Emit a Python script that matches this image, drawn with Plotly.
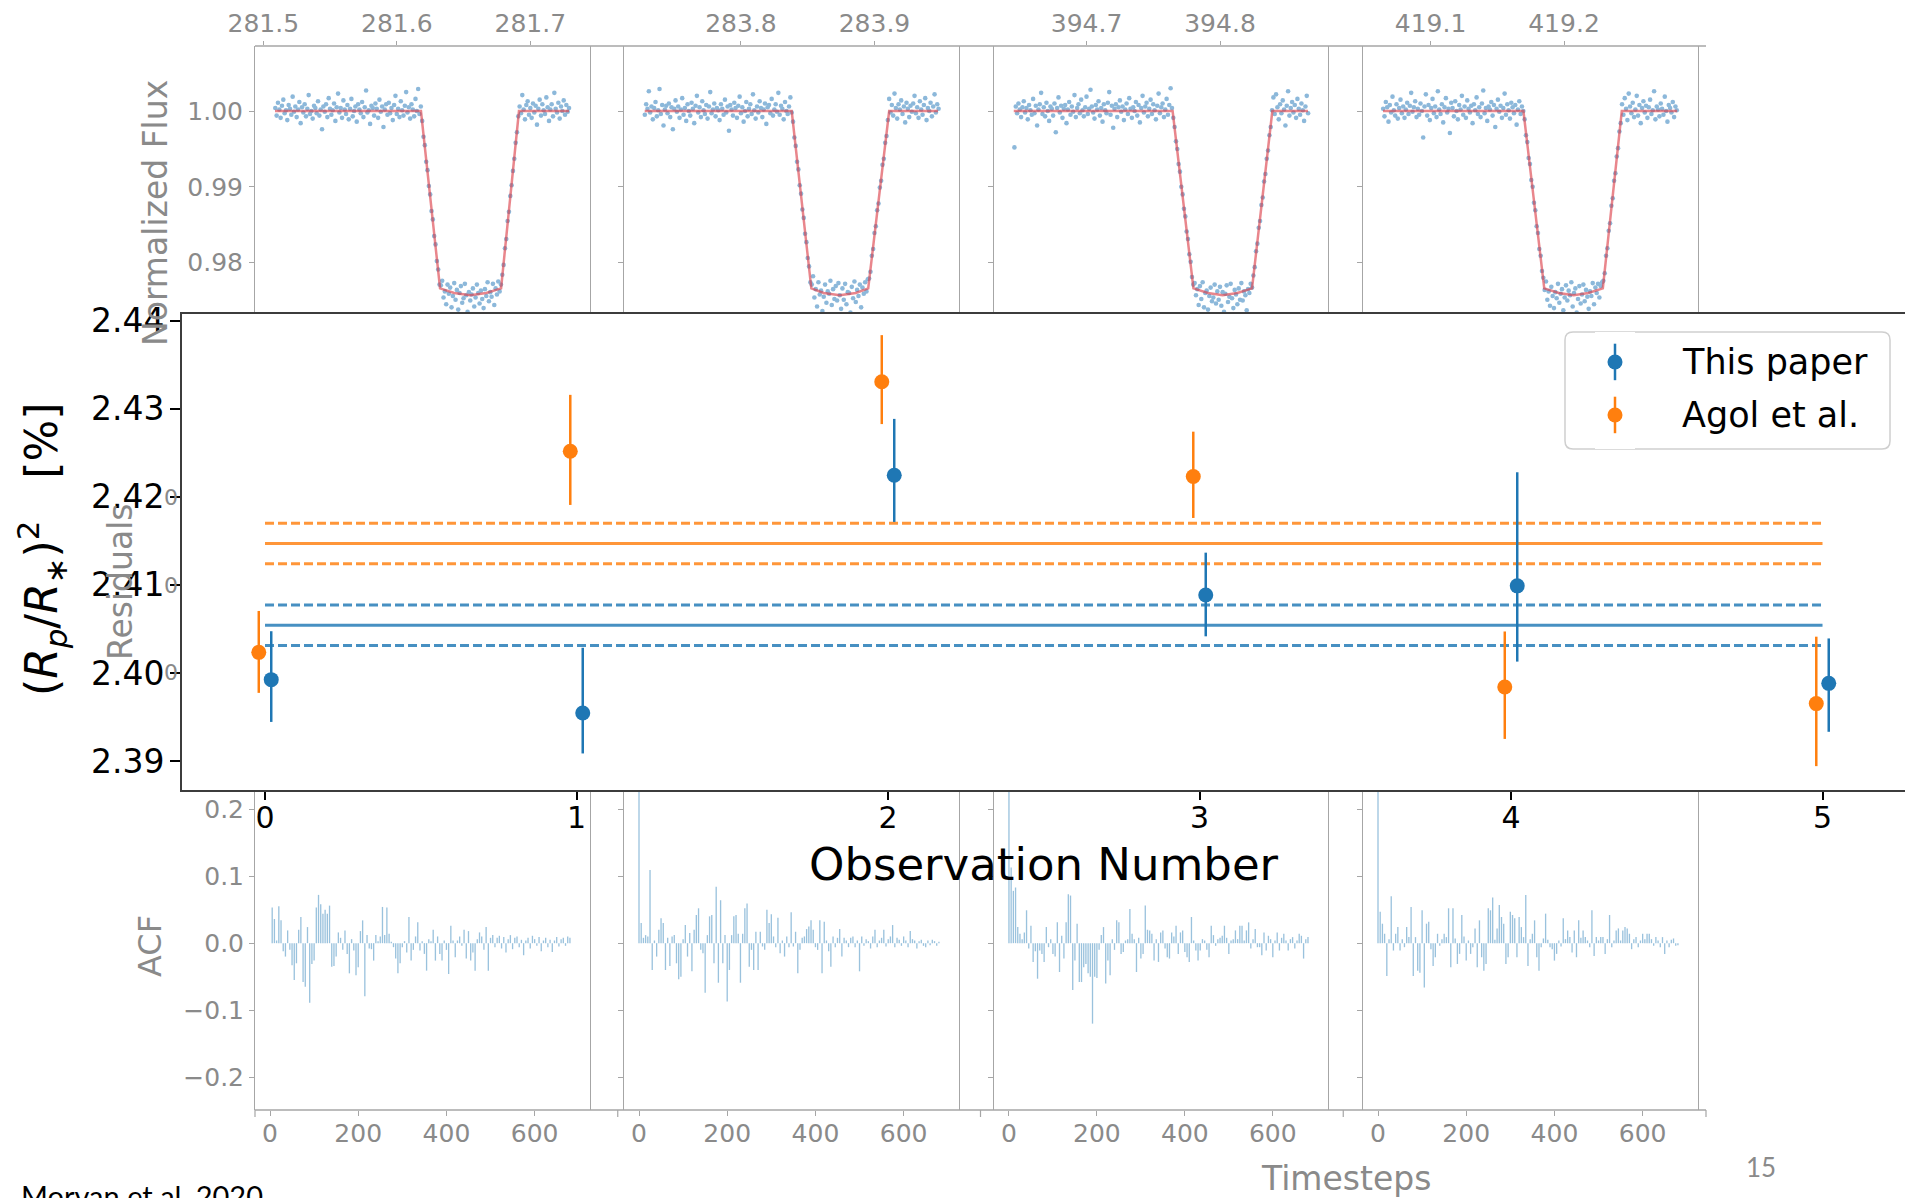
import numpy as np
import plotly.graph_objects as go

FIG_W, FIG_H = 1905, 1198

# ---------------------------------------------------------------------------
# Transit light curves: normalized flux, stored as ppt offsets from 1.0,
# sampled on a regular 0.001 d cadence between the span limits
# ---------------------------------------------------------------------------
lc_time_span = [(281.509, 281.729), (283.728, 283.948),
                (394.646, 394.866), (419.0645, 419.2845)]

lc1_flux_ppt = [
    # before transit
    0.4, -0.6, 1.1, 0.2, -0.9, 0.7, 1.5, -0.3, 0.1, -1.2,
    0.8, 0.3, -0.5, 1.9, -0.1, 0.6, -0.8, 0.2, 1.2, -1.6,
    0.5, -0.2, 0.9, -0.7, 0.3, 2.1, -0.4, 0.0, -1.0, 0.7,
    0.4, -0.3, 1.3, -0.6, 0.2, -2.4, 0.6, -0.1, 0.9, -0.8,
    1.7, 0.3, -0.5, 0.1, 1.0, -1.3, 0.5, 2.3, -0.2, 0.4,
    -0.9, 1.4, 0.2, -0.4, 0.8, -1.1, 0.3, 1.6, -0.7, 0.0,
    0.6, -1.4, 0.9, 0.2, -0.3, 1.2, -0.8, 0.5, 2.7, -0.2,
    0.1, -1.7, 0.7, 0.4, -0.6, 1.0, 0.3, -0.9, 1.5, -0.1,
    0.6, -2.1, 0.2, 0.9, -0.5, 1.1, -0.3, 0.4, -1.2, 0.8,
    2.0, -0.4, 0.3, -0.8, 1.3, 0.1, -0.6, 0.7, 2.5, -0.2,
    0.5, -1.0, 0.9, 0.2, -0.7, 1.6, 0.0, 2.9, -0.4, 0.6,
    # ingress
    -1.3, -3.4, -4.5, -6.7, -7.8, -9.9, -11.0, -13.2, -14.3, -16.5, -17.6, -19.8, -20.9, -22.9,
    # in transit
    -23.0, -22.4, -24.6, -23.8, -25.5, -22.9, -24.1, -23.3, -25.9, -24.4,
    -22.7, -24.9, -23.6, -26.2, -24.0, -23.1, -25.3, -24.7, -22.8, -24.3,
    -26.5, -23.9, -25.0, -24.2, -23.4, -25.8, -24.6, -22.9, -24.0, -25.4,
    -23.7, -24.8, -26.0, -23.5, -24.4, -22.6, -25.1, -23.9, -24.5, -22.8,
    -25.6, -23.4, -24.2, -22.5, -23.8, -22.9,
    # egress
    -21.6, -20.3, -18.1, -16.9, -14.5, -13.3, -11.2, -9.8, -7.9, -6.3, -4.2, -2.8, -0.7,
    # after transit
    0.6, -0.3, 2.1, 0.2, -1.1, 0.8, 1.3, -0.5, 0.4, -0.9,
    1.0, -0.2, 0.7, -1.8, 0.3, 1.5, -0.6, 0.9, 0.1, -0.4,
    1.8, 0.5, -1.3, 0.2, 0.9, -0.7, 2.4, 0.3, -0.2, 1.1,
    -1.0, 0.6, 0.0, 1.4, -0.5, 0.8, -0.1, 0.4]

lc2_flux_ppt = [
    -0.5, 0.9, 0.3, 2.6, -0.2, 0.6, -1.1, 0.4, 1.2, -0.7,
    0.1, 2.9, -0.4, 0.8, -1.9, 0.2, 0.7, -0.3, 1.0, -0.8,
    0.5, -2.4, 0.3, 1.4, -0.1, 0.6, -0.9, 0.2, 1.7, -0.5,
    0.4, -1.3, 0.9, 0.0, -0.6, 1.1, 0.3, -1.6, 0.7, 2.0,
    -0.2, 0.5, -0.8, 1.3, 0.1, -0.4, 0.8, -1.0, 0.6, 2.5,
    -0.3, 0.2, 1.0, -0.7, 0.4, 0.1, -1.2, 0.9, 0.3, -0.5,
    1.5, -0.2, 0.6, -2.6, 0.8, 0.2, -0.6, 1.1, 0.4, -0.9,
    0.7, 1.9, -0.3, 0.5, -1.4, 0.0, 1.2, -0.7, 0.3, 0.9,
    -0.4, 2.2, 0.1, -1.0, 0.6, -0.2, 1.3, 0.4, -0.8, 0.2,
    1.0, -1.7, 0.5, 0.8, -0.3, 1.6, -0.6, 0.2, 0.9, -0.1,
    2.4, -0.5, 0.7, 0.3, -1.1, 1.2, 0.0, -0.4, 0.6, 1.8, -0.2,
    -1.4, -3.5, -4.6, -6.7, -7.7, -9.8, -10.9, -13.0, -14.1, -16.2, -17.3, -19.4, -20.5, -22.6,
    -22.9, -21.8, -24.6, -23.5, -25.8, -22.6, -24.2, -23.7, -26.4, -24.5,
    -22.9, -25.3, -23.8, -24.1, -22.4, -25.6, -23.5, -24.8, -23.1, -25.0,
    -22.7, -24.3, -26.1, -23.4, -24.9, -22.8, -25.5, -23.9, -24.0, -26.6,
    -23.2, -24.7, -22.5, -25.2, -23.6, -24.4, -22.9, -25.9, -23.3, -24.1,
    -22.6, -23.8, -22.2,
    -22.1, -21.2, -19.1, -18.2, -16.1, -15.2, -13.1, -12.2, -10.1, -9.2, -7.1, -6.3, -4.2, -3.3, -1.2,
    1.6, -0.2, 0.8, -0.6, 2.3, 0.4, -1.0, 0.9, 0.2, 1.4,
    -0.4, 0.6, -1.5, 1.1, 0.3, -0.8, 0.7, -0.1, 1.0, 2.0,
    -0.3, 0.5, -0.9, 1.3, 0.2, -0.5, 0.8, 1.7, -1.2, 0.4,
    0.0, 1.1, -0.7, 0.6, 2.2, -0.2, 0.9, 0.3]

lc3_flux_ppt = [
    -4.8, 0.6, -0.3, 1.0, 0.2, -0.8, 0.5, 1.3, -0.2, 0.4,
    -1.1, 0.8, 0.1, -0.5, 1.6, -0.3, 0.7, -1.9, 0.2, 0.9,
    2.4, -0.4, 0.5, -0.7, 1.1, 0.0, -1.3, 0.6, 0.3, -0.6,
    1.0, -2.8, 0.4, 1.8, -0.2, 0.7, -0.9, 0.3, 0.8, -1.6,
    0.2, 1.2, -0.5, 0.6, -0.1, 2.1, -0.8, 0.4, 0.9, -0.3,
    1.5, 0.1, -0.7, 0.5, 1.9, -0.4, 0.3, 2.8, 0.6, -0.2,
    -1.0, 0.8, 0.2, 1.3, -0.6, 0.4, -1.4, 0.9, 0.1, -0.3,
    1.1, 2.5, -0.5, 0.7, -2.2, 0.3, 0.9, -0.8, 0.5, 1.4,
    -0.1, 0.6, -1.2, 0.2, 1.0, -0.4, 1.7, 0.3, -0.9, 0.5,
    0.0, 1.2, -0.6, 0.8, -1.5, 0.4, 2.0, -0.2, 0.6, 1.1,
    -0.7, 0.3, 1.5, -0.4, 0.9, 0.1, -1.1, 0.7, 2.3, -0.3,
    0.5, 1.0, -0.8, 0.2, 1.6, -0.5, 0.8, 3.0, 0.4,
    -0.9, -2.1, -4.0, -5.0, -7.0, -8.0, -10.0, -11.0, -12.9, -13.9, -15.9, -16.9, -18.9, -19.9,
    -21.9, -22.9,
    -22.7, -24.3, -23.5, -25.6, -23.1, -24.8, -22.6, -25.9, -24.0, -23.7,
    -26.2, -24.4, -23.3, -25.1, -24.6, -22.9, -25.4, -23.8, -24.9, -23.2,
    -25.7, -23.9, -26.5, -24.1, -23.0, -25.2, -24.5, -22.8, -24.7, -26.0,
    -23.6, -24.2, -25.5, -23.4, -24.9, -22.7, -25.0, -23.8, -24.3, -26.3,
    -23.5, -24.0, -22.8, -23.3,
    -21.7, -20.6, -18.5, -17.5, -15.4, -14.5, -12.4, -11.4, -9.3, -8.3, -6.3, -5.2, -3.2, -2.1, 0.1,
    1.8, -0.4, 2.2, 0.5, -1.1, 0.9, -0.3, 1.4, 0.2, -1.9,
    0.7, 2.6, -0.6, 0.4, 1.2, -0.2, 0.8, -0.9, 1.6, 0.3,
    -0.5, 1.0, 0.1, -1.3, 0.6, 2.0, -0.3]

lc4_flux_ppt = [
    0.3, -0.7, 1.2, 0.5, -1.4, 0.8, -0.2, 1.9, 0.1, -0.6,
    0.9, -1.0, 0.4, 1.5, -0.3, 0.6, -0.9, 0.2, 1.1, -0.4,
    0.7, 2.4, -0.1, 0.5, 1.3, -0.8, 0.3, -0.5, 1.0, 0.0,
    -3.5, 0.6, 2.2, -0.6, 0.8, -1.2, 0.4, 1.6, -0.3, 0.6,
    -0.8, 2.6, 0.2, -0.4, 0.9, -1.5, 0.5, 1.7, -0.2, 0.3,
    -2.9, 1.1, 0.4, -0.7, 1.3, 0.0, -1.1, 0.8, 0.2, 2.0,
    -0.5, 0.6, -0.9, 1.4, 0.3, -0.2, 0.7, -1.6, 0.9, 0.1,
    1.8, -0.4, 0.5, -0.8, 1.0, 2.7, -0.3, 0.4, -1.3, 0.6,
    0.2, 1.2, -0.6, 0.8, -2.1, 0.3, 1.5, -0.1, 0.7, -0.9,
    0.4, 2.3, -0.5, 0.9, 0.1, -1.0, 1.1, 0.5, -0.3, 0.8,
    -1.8, 0.2, 1.3, -0.4, 0.6, 0.0,
    -1.1, -3.2, -4.1, -6.2, -7.0, -9.1, -10.0, -12.1, -13.1, -15.2, -16.1, -18.2, -19.1, -21.1,
    -22.0,
    -23.6, -22.5, -24.9, -23.8, -25.7, -23.2, -24.4, -26.0, -23.9, -24.7,
    -22.8, -25.3, -24.1, -23.5, -26.3, -24.6, -23.0, -25.0, -23.7, -24.3,
    -22.6, -25.8, -24.0, -23.4, -26.6, -24.8, -23.1, -25.4, -24.2, -22.9,
    -25.1, -23.6, -24.5, -26.1, -23.8, -24.4, -22.7, -25.5, -23.3, -24.0,
    -22.8, -24.6, -23.1, -22.6,
    -22.4, -21.4, -19.1, -18.1, -15.8, -14.8, -12.5, -11.5, -9.2, -8.2, -6.0, -4.9, -2.7, -1.6,
    0.9, -0.5, 1.7, 0.3, -1.2, 2.3, 0.6, -0.3, 1.1, -0.8,
    0.2, 2.0, -0.6, 0.8, -1.6, 0.4, 1.3, -0.2, 0.7, -0.9,
    0.5, 1.5, -0.4, 0.1, 2.6, -1.1, 0.6, 0.2, -0.7, 1.0,
    0.3, -0.5, 1.9, 0.0, -1.4, 0.8, 0.4, -0.2, 1.2, -0.8,
    0.6, 0.1]

# Best-fit transit model vertices (time, ppt)
model1_time = [281.5088, 281.6181, 281.6324, 281.643, 281.655, 281.667, 281.6781, 281.6915, 281.729]
model2_time = [283.7279, 283.838, 283.8527, 283.862, 283.874, 283.886, 283.8953, 283.911, 283.9476]
model3_time = [394.6455, 394.7645, 394.7801, 394.791, 394.802, 394.813, 394.824, 394.8392, 394.8659]
model4_time = [419.0644, 419.1696, 419.1852, 419.1962, 419.2072, 419.2182, 419.2291, 419.2433, 419.2848]
model_flux_ppt = [0.0, 0.0, -23.4, -24.0, -24.3, -24.0, -23.4, 0.0, 0.0]

lc_tick_values = [[281.5, 281.6, 281.7], [283.8, 283.9], [394.7, 394.8], [419.1, 419.2]]
flux_tick_values = [0.98, 0.99, 1.00]

# ---------------------------------------------------------------------------
# Residual autocorrelation (every 5th lag)
# ---------------------------------------------------------------------------
acf_lag_step = 5
acf1_first_lag = 5
acf1 = [
    0.053, 0.036, 0.004, 0.055, 0.034, -0.012, -0.020, 0.019, -0.010, -0.033,
    -0.055, -0.030, 0.020, 0.039, -0.058, -0.065, 0.024, -0.089, -0.031, -0.026,
    0.053, 0.072, 0.058, 0.044, 0.050, 0.044, 0.056, -0.035, -0.034, -0.020,
    0.016, 0.008, -0.010, 0.019, -0.016, -0.045, 0.006, -0.011, -0.048, -0.036,
    0.018, 0.034, -0.079, 0.012, -0.008, -0.009, -0.026, 0.012, 0.003, 0.010,
    0.054, 0.012, 0.053, 0.014, 0.002, -0.006, -0.023, -0.045, -0.030, -0.006,
    0.003, -0.014, 0.039, -0.026, -0.010, 0.010, 0.031, -0.011, 0.003, -0.016,
    -0.041, 0.006, 0.003, 0.020, -0.026, 0.010, -0.016, -0.026, 0.004, -0.010,
    -0.046, 0.026, 0.004, -0.021, 0.004, 0.010, -0.004, 0.020, -0.023, 0.018,
    -0.026, -0.014, -0.041, 0.006, 0.016, 0.010, -0.010, 0.024, -0.041, 0.008,
    0.012, -0.006, 0.008, 0.011, -0.008, 0.009, -0.014, 0.006, 0.012, -0.009,
    0.008, 0.010, -0.006, 0.005, -0.018, 0.004, 0.008, -0.008, 0.011, 0.006,
    -0.004, 0.009, -0.012, 0.004, 0.008, -0.006, 0.005, -0.013, 0.004, 0.009,
    -0.005, 0.006, 0.008, -0.004, 0.010, 0.008]
acf2 = [
    1.0, 0.030, 0.008, 0.012, 0.010, 0.109, -0.040, 0.004, -0.020, 0.020,
    0.037, 0.030, -0.040, 0.008, -0.034, 0.010, 0.012, -0.030, -0.054, -0.050,
    0.006, 0.027, -0.020, 0.015, -0.042, 0.020, 0.042, 0.052, -0.010, -0.015,
    -0.074, 0.012, 0.040, 0.042, -0.030, 0.084, -0.059, 0.064, -0.030, 0.012,
    -0.087, -0.040, 0.012, 0.040, 0.042, 0.014, -0.059, 0.014, 0.052, 0.059,
    -0.035, -0.010, -0.040, 0.017, -0.040, 0.017, -0.005, -0.010, 0.050, 0.030,
    0.043, 0.010, -0.006, 0.038, -0.015, 0.004, -0.020, 0.010, -0.006, 0.046,
    -0.005, 0.017, -0.045, -0.010, 0.008, 0.010, 0.021, 0.025, 0.034, 0.020,
    -0.006, -0.010, 0.034, -0.045, 0.032, 0.004, -0.012, -0.035, 0.010, -0.006,
    0.008, 0.021, -0.020, 0.008, 0.004, -0.006, 0.008, 0.010, -0.006, 0.004,
    -0.042, 0.010, -0.004, 0.006, 0.003, -0.008, 0.010, 0.020, -0.006, 0.004,
    0.008, 0.020, -0.005, 0.006, 0.010, 0.027, -0.006, 0.008, 0.005, -0.004,
    0.010, 0.004, -0.006, 0.018, 0.006, 0.004, -0.008, 0.003, 0.005, -0.004,
    -0.006, 0.004, -0.003, 0.005, 0.003, -0.004, 0.002]
acf3 = [
    1.0, 0.113, 0.078, 0.083, 0.024, 0.014, 0.006, 0.016, 0.049, -0.008,
    0.026, -0.028, -0.012, -0.053, -0.011, -0.016, -0.028, 0.024, -0.006, 0.006,
    -0.016, -0.020, 0.031, -0.043, 0.011, -0.023, 0.031, 0.073, 0.071, -0.070,
    -0.026, 0.029, -0.058, -0.058, -0.036, -0.031, -0.045, -0.050, -0.120, -0.050,
    -0.052, -0.010, 0.012, 0.024, -0.060, -0.026, -0.048, 0.006, -0.010, 0.034,
    0.031, -0.016, -0.013, 0.004, 0.006, 0.051, 0.014, 0.006, -0.043, 0.008,
    -0.023, -0.016, 0.056, 0.020, 0.019, 0.014, -0.026, 0.006, -0.028, 0.016,
    0.019, -0.008, -0.021, -0.023, 0.016, 0.010, 0.026, -0.016, 0.016, 0.019,
    -0.013, -0.021, -0.028, 0.039, 0.004, -0.011, -0.026, -0.011, 0.006, 0.004,
    -0.010, -0.021, 0.026, 0.012, -0.004, 0.006, 0.008, 0.011, 0.026, 0.008,
    -0.016, 0.004, 0.006, 0.019, 0.006, 0.026, 0.026, 0.004, 0.019, 0.031,
    -0.008, 0.006, 0.021, -0.006, -0.006, -0.018, 0.016, -0.011, 0.011, 0.006,
    -0.021, 0.004, 0.016, -0.011, 0.008, 0.014, 0.004, -0.011, 0.006, 0.009,
    -0.008, 0.004, 0.014, 0.011, -0.023, 0.006, 0.009]
acf4 = [
    1.0, 0.047, 0.029, 0.014, -0.049, 0.006, 0.070, -0.011, 0.014, 0.024,
    -0.011, 0.006, -0.006, 0.024, 0.009, 0.054, -0.049, 0.009, -0.041, -0.044,
    0.049, -0.066, 0.029, 0.032, -0.009, -0.034, -0.021, 0.014, -0.004, 0.006,
    0.014, 0.009, 0.052, -0.036, 0.052, 0.007, -0.031, -0.016, 0.042, 0.010,
    -0.026, 0.004, -0.016, -0.006, 0.022, -0.036, 0.034, -0.021, -0.041, -0.031,
    0.052, 0.049, 0.068, 0.005, 0.022, 0.057, 0.039, 0.029, -0.031, -0.021,
    0.047, 0.042, 0.037, -0.021, 0.039, 0.024, 0.009, 0.072, -0.034, 0.006,
    0.014, 0.034, -0.021, -0.041, -0.006, 0.007, 0.044, 0.005, -0.006, -0.009,
    -0.026, -0.016, 0.004, -0.005, 0.037, 0.006, 0.019, 0.009, -0.014, 0.019,
    -0.021, 0.034, 0.008, 0.019, 0.009, 0.004, -0.006, 0.049, -0.019, 0.009,
    0.004, 0.009, 0.009, -0.016, 0.006, 0.042, -0.006, 0.004, 0.019, 0.022,
    0.004, 0.019, 0.024, 0.022, 0.014, -0.009, 0.006, 0.009, -0.006, 0.004,
    0.014, 0.006, 0.014, 0.014, 0.006, -0.004, 0.009, 0.004, -0.006, 0.009,
    -0.016, 0.004, -0.006, 0.005, 0.007, -0.004, -0.003]
acf_tick_values = [0, 200, 400, 600]
acf_y_tick_values = [-0.2, -0.1, 0.0, 0.1, 0.2]
acf_y_tick_text = ["\u22120.2", "\u22120.1", "0.0", "0.1", "0.2"]

# ---------------------------------------------------------------------------
# Transit depth per observation, (Rp/R*)^2 in %
# ---------------------------------------------------------------------------
observation = [0, 1, 2, 3, 4, 5]
this_paper = [2.39924, 2.39546, 2.42245, 2.40886, 2.40989, 2.39882]
this_paper_err_up = [0.0055, 0.0074, 0.0064, 0.0048, 0.0129, 0.0051]
this_paper_err_down = [0.0048, 0.0046, 0.0053, 0.0047, 0.0086, 0.0055]
agol = [2.40234, 2.42518, 2.43306, 2.42230, 2.39841, 2.39652]
agol_err_up = [0.0047, 0.0064, 0.0053, 0.0051, 0.0063, 0.0076]
agol_err_down = [0.0046, 0.0061, 0.0048, 0.0047, 0.0059, 0.0071]
this_paper_mean, this_paper_sigma = 2.40543, 0.00230
agol_mean, agol_sigma = 2.41470, 0.00230
depth_tick_values = [2.39, 2.40, 2.41, 2.42, 2.43, 2.44]

# ---------------------------------------------------------------------------
# Styling
# ---------------------------------------------------------------------------
BLUE = "#1f77b4"
ORANGE = "#ff7f0e"
BLUE_LINE = "rgba(31,119,180,0.82)"
ORANGE_LINE = "rgba(255,127,14,0.82)"
LC_POINT = "#8cb8da"
MODEL_RED = "rgba(220,60,70,0.62)"
ACF_BAR = "rgba(31,119,180,0.45)"
GRAY_TXT = "#8a8a8a"
GRAY_LINE = "#a6a6a6"
FONT = "DejaVu Sans"


def fx(px):
    return px / FIG_W


def fy(py):
    return 1 - py / FIG_H


panel_px = [(255, 590), (624, 959), (994, 1328), (1363, 1698)]
lc_xranges = [(281.4938, 281.7447), (283.7124, 283.9633),
              (394.6307, 394.8809), (419.0494, 419.3004)]
lc_yrange = [0.97322, 1.00858]
acf_xrange = [-34.0, 725.5]
acf_yrange = [-0.2488, 0.2284]

fig = go.Figure()
layout_axes = {}

lc_fluxes = [lc1_flux_ppt, lc2_flux_ppt, lc3_flux_ppt, lc4_flux_ppt]
model_times = [model1_time, model2_time, model3_time, model4_time]
acfs = [acf1, acf2, acf3, acf4]
acf_first_lags = [acf1_first_lag, 0, 0, 0]

for i in range(4):
    n = i + 1
    xa, ya = ("x", "y") if n == 1 else (f"x{n}", f"y{n}")
    t = np.linspace(lc_time_span[i][0], lc_time_span[i][1], len(lc_fluxes[i]))
    fig.add_trace(go.Scatter(
        x=t, y=1 + np.array(lc_fluxes[i]) / 1000.0, mode="markers",
        marker=dict(size=4.6, color=LC_POINT, line=dict(width=0)),
        xaxis=xa, yaxis=ya, hoverinfo="skip"))
    fig.add_trace(go.Scatter(
        x=model_times[i], y=1 + np.array(model_flux_ppt) / 1000.0, mode="lines",
        line=dict(color=MODEL_RED, width=2.5), xaxis=xa, yaxis=ya, hoverinfo="skip"))

    l, r = panel_px[i]
    xkey = "xaxis" if n == 1 else f"xaxis{n}"
    ykey = "yaxis" if n == 1 else f"yaxis{n}"
    layout_axes[xkey] = dict(
        domain=[fx(l), fx(r)], anchor=ya, side="top", range=list(lc_xranges[i]),
        tickvals=lc_tick_values[i], ticktext=[f"{v:.1f}" for v in lc_tick_values[i]],
        ticks="outside", ticklen=4, tickcolor=GRAY_LINE, ticklabelstandoff=-1,
        tickfont=dict(size=25, color=GRAY_TXT, family=FONT), automargin=False,
        showline=False, showgrid=False, zeroline=False)
    layout_axes[ykey] = dict(
        domain=[fy(314), fy(46)], anchor=xa, range=lc_yrange,
        tickvals=flux_tick_values, ticktext=[f"{v:.2f}" for v in flux_tick_values],
        showticklabels=(n == 1), ticks="outside", ticklen=5, tickcolor=GRAY_LINE,
        ticklabelstandoff=1, tickfont=dict(size=25, color=GRAY_TXT, family=FONT),
        showline=True, mirror=True, linecolor=GRAY_LINE, linewidth=1, automargin=False,
        showgrid=False, zeroline=False)

    # autocorrelation panel underneath
    m = n + 4
    lags = acf_first_lags[i] + acf_lag_step * np.arange(len(acfs[i]))
    fig.add_trace(go.Bar(
        x=lags, y=acfs[i], width=3, marker=dict(color=ACF_BAR, line=dict(width=0)),
        xaxis=f"x{m}", yaxis=f"y{m}", hoverinfo="skip"))
    layout_axes[f"xaxis{m}"] = dict(
        domain=[fx(l), fx(r)], anchor=f"y{m}", range=acf_xrange,
        tickvals=acf_tick_values, ticks="outside", ticklen=5, tickcolor=GRAY_LINE,
        ticklabelstandoff=-4, tickfont=dict(size=25, color=GRAY_TXT, family=FONT),
        showline=False, showgrid=False, zeroline=False, automargin=False)
    layout_axes[f"yaxis{m}"] = dict(
        domain=[fy(1110), fy(790)], anchor=f"x{m}", range=acf_yrange,
        tickvals=acf_y_tick_values, ticktext=acf_y_tick_text,
        showticklabels=(m == 5), ticks="outside", ticklen=5, tickcolor=GRAY_LINE,
        ticklabelstandoff=0, tickfont=dict(size=25, color=GRAY_TXT, family=FONT),
        showline=True, mirror=True, linecolor=GRAY_LINE, linewidth=1, automargin=False,
        showgrid=False, zeroline=False)

# ---------------------------------------------------------------------------
# Main panel: depth per observation
# ---------------------------------------------------------------------------
obs = np.array(observation, dtype=float)
span = [obs[0], obs[-1]]
for mean, sig, col in [(agol_mean, agol_sigma, ORANGE_LINE),
                       (this_paper_mean, this_paper_sigma, BLUE_LINE)]:
    fig.add_trace(go.Scatter(x=span, y=[mean, mean], mode="lines",
                             line=dict(color=col, width=3), xaxis="x9", yaxis="y9",
                             hoverinfo="skip"))
    for level in (mean + sig, mean - sig):
        fig.add_trace(go.Scatter(x=span, y=[level, level], mode="lines",
                                 line=dict(color=col, width=3, dash="9px,4px"),
                                 xaxis="x9", yaxis="y9", hoverinfo="skip"))

dodge = 0.02
fig.add_trace(go.Scatter(
    x=obs - dodge, y=agol, mode="markers", name="Agol et al.",
    marker=dict(size=15, color=ORANGE),
    error_y=dict(type="data", symmetric=False, array=agol_err_up,
                 arrayminus=agol_err_down, color=ORANGE, thickness=2.5, width=0),
    xaxis="x9", yaxis="y9"))
fig.add_trace(go.Scatter(
    x=obs + dodge, y=this_paper, mode="markers", name="This paper",
    marker=dict(size=15, color=BLUE),
    error_y=dict(type="data", symmetric=False, array=this_paper_err_up,
                 arrayminus=this_paper_err_down, color=BLUE, thickness=2.5, width=0),
    xaxis="x9", yaxis="y9"))

layout_axes["xaxis9"] = dict(
    domain=[fx(182), 1.0], anchor="y9", range=[-0.2665, 5.2648],
    tickvals=observation, ticks="outside", ticklen=8, tickwidth=1.5, tickcolor="#000",
    ticklabelstandoff=-8, tickfont=dict(size=30, color="#000", family=FONT),
    showline=True, mirror=True, linecolor="#3c3c3c", linewidth=2, automargin=False,
    showgrid=False, zeroline=False)
layout_axes["yaxis9"] = dict(
    domain=[fy(790), fy(314)], anchor="x9", range=[2.38671, 2.44076],
    tickvals=depth_tick_values, ticktext=[f"{v:.2f}" for v in depth_tick_values],
    ticks="outside", ticklen=10, tickwidth=1.5, tickcolor="#000",
    ticklabelstandoff=-1, tickfont=dict(size=33, color="#000", family=FONT),
    showline=True, mirror=False, linecolor="#3c3c3c", linewidth=2, automargin=False,
    showgrid=False, zeroline=False)

# legend glyphs (errorbar markers) on their own small axes
legend_rows = [0.744, 0.291]
fig.add_trace(go.Scatter(
    x=[0.5], y=[legend_rows[0]], mode="markers", marker=dict(size=15, color=BLUE),
    error_y=dict(type="constant", value=0.156, color=BLUE, thickness=2.5, width=0),
    xaxis="x10", yaxis="y10", hoverinfo="skip"))
fig.add_trace(go.Scatter(
    x=[0.5], y=[legend_rows[1]], mode="markers", marker=dict(size=15, color=ORANGE),
    error_y=dict(type="constant", value=0.156, color=ORANGE, thickness=2.5, width=0),
    xaxis="x10", yaxis="y10", hoverinfo="skip"))
layout_axes["xaxis10"] = dict(domain=[fx(1595), fx(1635)], anchor="y10",
                              range=[0, 1], visible=False, automargin=False)
layout_axes["yaxis10"] = dict(domain=[fy(449), fy(332)], anchor="x10",
                              range=[0, 1], visible=False, automargin=False)


def rounded_rect_path(x0, y0, x1, y1, r):
    def p(x, y):
        return f"{fx(x):.5f},{fy(y):.5f}"
    return (f"M {p(x0 + r, y0)} L {p(x1 - r, y0)} Q {p(x1, y0)} {p(x1, y0 + r)} "
            f"L {p(x1, y1 - r)} Q {p(x1, y1)} {p(x1 - r, y1)} "
            f"L {p(x0 + r, y1)} Q {p(x0, y1)} {p(x0, y1 - r)} "
            f"L {p(x0, y0 + r)} Q {p(x0, y0)} {p(x0 + r, y0)} Z")


shapes = [
    # shared outer spines of the panel grid
    dict(type="line", xref="paper", yref="paper", x0=fx(255), x1=fx(1706),
         y0=fy(46), y1=fy(46), line=dict(color=GRAY_LINE, width=1.5)),
    dict(type="line", xref="paper", yref="paper", x0=fx(255), x1=fx(1706),
         y0=fy(1110), y1=fy(1110), line=dict(color=GRAY_LINE, width=1.5)),
    dict(type="path", xref="paper", yref="paper",
         path=rounded_rect_path(1565, 332, 1890, 449, 8),
         line=dict(color="#cfcfcf", width=1.5), fillcolor="rgba(255,255,255,0.85)",
         layer="below"),
]
for frac in [0.0, 0.25, 0.5, 0.75, 1.0]:
    xp = 255 + frac * (1706 - 255)
    shapes.append(dict(type="line", xref="paper", yref="paper", x0=fx(xp), x1=fx(xp),
                       y0=fy(1110), y1=fy(1117), line=dict(color=GRAY_LINE, width=1.2)))


def text(s, x, y, size, color, angle=0, xanchor="center", yanchor="middle", family=FONT):
    return dict(text=s, x=fx(x), y=fy(y), xref="paper", yref="paper", showarrow=False,
                font=dict(size=size, color=color, family=family), textangle=angle,
                xanchor=xanchor, yanchor=yanchor)


annotations = [
    text("Normalized Flux", 156, 213, 33, GRAY_TXT, angle=-90),
    text("Residuals", 120, 582, 33, GRAY_TXT, angle=-90),
    text("0", 171, 497, 22, GRAY_TXT),
    text("0", 171, 585, 22, GRAY_TXT),
    text("0", 171, 672, 22, GRAY_TXT),
    text("ACF", 150, 946, 32, GRAY_TXT, angle=-90),
    text("Timesteps", 1346, 1178, 33, GRAY_TXT),
    text("15", 1761, 1167, 26, GRAY_TXT, family="Lato"),
    text("Morvan et al. 2020", 19, 1176, 29, "#000", xanchor="left", yanchor="top",
         family="Lato"),
    text("(<i>R</i><sub><i>p</i></sub>/<i>R</i><sub>\u2217</sub>)<sup>2</sup>"
         "\u00a0\u00a0\u00a0[%]", 42, 550, 44, "#000", angle=-90),
    text("Observation Number", 1044, 864, 45, "#000"),
    text("This paper", 1680, 362, 35, "#000", xanchor="left"),
    text("Agol et al.", 1680, 415, 35, "#000", xanchor="left"),
]

fig.update_layout(
    width=FIG_W, height=FIG_H,
    margin=dict(l=0, r=0, t=0, b=0, pad=0, autoexpand=False),
    paper_bgcolor="white", plot_bgcolor="white", showlegend=False,
    font=dict(family=FONT, color="#000"),
    shapes=shapes, annotations=annotations, **layout_axes)

fig.write_html("out.html")
